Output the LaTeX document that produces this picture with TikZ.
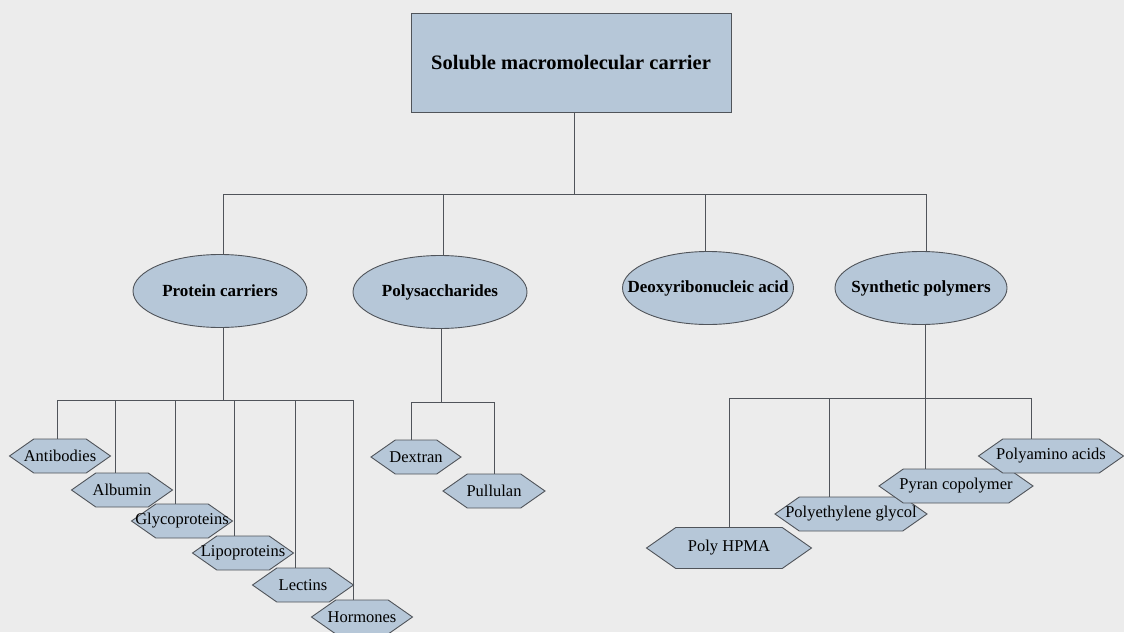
\documentclass[tikz,border=0pt]{standalone}
\usepackage{fontspec}
\setmainfont{Liberation Serif}
\usetikzlibrary{shapes.geometric,shapes.symbols}
\definecolor{bg}{RGB}{236,236,236}
\definecolor{fillc}{RGB}{182,199,216}
\definecolor{linec}{RGB}{80,84,90}
\newcommand{\zw}[1]{\makebox[0pt]{#1}}
\tikzset{
  rootbox/.style={draw=linec, line width=0.9pt, fill=fillc, minimum width=320pt, minimum height=99pt, inner sep=0pt, font=\fontsize{20.5}{24}\selectfont\bfseries},
  catell/.style={ellipse, draw=linec, line width=0.9pt, fill=fillc, minimum width=174pt, minimum height=73pt, inner sep=0pt, font=\fontsize{17}{20}\selectfont\bfseries},
  hexbox/.style={signal, signal to=west and east, signal pointer angle=70, draw=linec, line width=0.9pt, fill=fillc, minimum height=34pt, inner sep=0pt, font=\fontsize{16.5}{19}\selectfont},
  conn/.style={draw=linec, line width=0.8pt}
}
\begin{document}
\begin{tikzpicture}[x=1pt,y=-1pt]
\fill[bg] (0,0) rectangle (1124,632);
\useasboundingbox (0,0) rectangle (1124,632);

% root
\node[rootbox] (root) at (571,62.5) {Soluble macromolecular carrier};

% categories
\node[catell] (pc) at (220,291) {\zw{Protein carriers}};
\node[catell] (ps) at (440,292) {\zw{Polysaccharides}};
\node[catell, minimum width=171pt] (dna) at (708,288) {\zw{Deoxyribonucleic acid}};
\node[catell, minimum width=172pt] (sp) at (921,288) {\zw{Synthetic polymers}};

\coordinate (tj) at (574,194);
\coordinate (b1) at (223,194);
\coordinate (b2) at (443,194);
\coordinate (b3) at (705,194);
\coordinate (b4) at (926,194);
\draw[conn] (tj |- root.south) -- (tj);
\draw[conn] (b1) -- (b4);
\draw[conn] (b1) -- (b1 |- pc.north);
\draw[conn] (b2) -- (b2 |- ps.north);
\draw[conn] (b3) -- (b3 |- dna.north);
\draw[conn] (b4) -- (b4 |- sp.north);

% protein carriers children
\node[hexbox, minimum width=101pt] (anti) at (60,456) {\zw{Antibodies}};
\node[hexbox, minimum width=101pt] (albu) at (122,490) {\zw{Albumin}};
\node[hexbox, minimum width=101pt] (glyc) at (182,521) {\zw{Glycoproteins}};
\node[hexbox, minimum width=101pt] (lipo) at (243,553) {\zw{Lipoproteins}};
\node[hexbox, minimum width=101pt] (lect) at (303,585) {\zw{Lectins}};
\node[hexbox, minimum width=101pt] (horm) at (362,617) {\zw{Hormones}};

\coordinate (pb) at (223,400);
\coordinate (p1) at (57,400);
\coordinate (p2) at (115,400);
\coordinate (p3) at (175,400);
\coordinate (p4) at (234,400);
\coordinate (p5) at (295,400);
\coordinate (p6) at (353,400);
\draw[conn] (pb |- pc.south) -- (pb);
\draw[conn] (p1) -- (p6);
\draw[conn] (p1) -- (p1 |- anti.north);
\draw[conn] (p2) -- (p2 |- albu.north);
\draw[conn] (p3) -- (p3 |- glyc.north);
\draw[conn] (p4) -- (p4 |- lipo.north);
\draw[conn] (p5) -- (p5 |- lect.north);
\draw[conn] (p6) -- (p6 |- horm.north);

% polysaccharides children
\node[hexbox, minimum width=90pt] (dext) at (416,457) {\zw{Dextran}};
\node[hexbox, minimum width=102pt] (pull) at (494,491) {\zw{Pullulan}};
\coordinate (sb) at (441,402);
\coordinate (s1) at (411,402);
\coordinate (s2) at (494,402);
\draw[conn] (sb |- ps.south) -- (sb);
\draw[conn] (s1) -- (s2);
\draw[conn] (s1) -- (s1 |- dext.north);
\draw[conn] (s2) -- (s2 |- pull.north);

% synthetic polymers children
\node[hexbox, minimum width=165pt, minimum height=41pt] (hpma) at (729,548) {\zw{Poly HPMA}};
\node[hexbox, minimum width=152pt] (peg) at (851,514) {\zw{Polyethylene glycol}};
\node[hexbox, minimum width=154pt] (pyran) at (956,486) {\zw{Pyran copolymer}};
\node[hexbox, minimum width=145pt] (paa) at (1051,456) {\zw{Polyamino acids}};
\coordinate (yb) at (925,398);
\coordinate (y1) at (729,398);
\coordinate (y2) at (829,398);
\coordinate (y3) at (925,398);
\coordinate (y4) at (1031,398);
\draw[conn] (yb |- sp.south) -- (yb);
\draw[conn] (y1) -- (y4);
\draw[conn] (y1) -- (y1 |- hpma.north);
\draw[conn] (y2) -- (y2 |- peg.north);
\draw[conn] (y3) -- (y3 |- pyran.north);
\draw[conn] (y4) -- (y4 |- paa.north);
\end{tikzpicture}
\end{document}
